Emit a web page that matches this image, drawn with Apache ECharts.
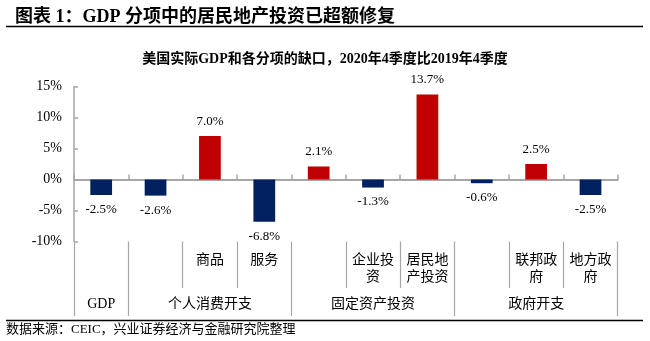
<!DOCTYPE html>
<html><head><meta charset="utf-8">
<script src="https://cdn.jsdelivr.net/npm/echarts@6/dist/echarts.min.js"></script>
<style>html,body{margin:0;padding:0;background:#fff}#c{width:650px;height:341px}</style>
</head><body><div id="c"></div><script>
const categories = ["GDP","个人消费开支","商品","服务","固定资产投资","企业投资","居民地产投资","政府开支","联邦政府","地方政府"];
const values = [-2.5,-2.6,7.0,-6.8,2.1,-1.3,13.7,-0.6,2.5,-2.5];
const subLabels = ["","","商品","服务","","企业投资","居民地产投资","","联邦政府","地方政府"];
const groupLabels = ["GDP","","个人消费开支","","","固定资产投资","","","政府开支",""];
const yTicks = [-10,-5,0,5,10,15];

const FF = "'Liberation Serif','Noto Sans CJK SC',serif";
const GREY = '#A6A6A6';
const wrap = s => (s.match(/.{1,3}/g) || ['']).join('\n');

const chart = echarts.init(document.getElementById('c'), null, {renderer:'canvas'});
chart.setOption({
  animation:false,
  backgroundColor:'#fff',
  title:[
    {text:'图表 1：GDP 分项中的居民地产投资已超额修复', left:15, top:8, padding:0,
     textStyle:{fontSize:18, fontWeight:'bold', fontFamily:FF, color:'#000'}},
    {text:'美国实际GDP和各分项的缺口，2020年4季度比2019年4季度', left:'center', top:52, padding:0,
     textStyle:{fontSize:14, fontWeight:'bold', fontFamily:FF, color:'#000'}},
    {text:'数据来源：CEIC，兴业证券经济与金融研究院整理', left:6, top:323, padding:0,
     textStyle:{fontSize:13, fontWeight:'normal', fontFamily:FF, color:'#000'}}
  ],
  graphic:[
    {type:'line', shape:{x1:6,y1:26.5,x2:643,y2:26.5}, style:{stroke:'#000', lineWidth:1.5}},
    {type:'line', shape:{x1:6,y1:320.5,x2:643,y2:320.5}, style:{stroke:'#000', lineWidth:1.5}}
  ],
  grid:{left:74, right:32.3, top:86.5, bottom:99.5},
  xAxis:[
    {type:'category', data:categories, position:'bottom',
     axisLine:{onZero:true, lineStyle:{color:GREY, width:2}},
     axisTick:{show:true, inside:true, length:5, interval:0, lineStyle:{color:GREY, width:1.5}},
     axisLabel:{show:false}},
    {type:'category', data:categories, position:'bottom', offset:0,
     axisLine:{show:false, onZero:false},
     axisTick:{show:true, length:46.5, interval:0, lineStyle:{color:GREY, width:1.2}},
     axisLabel:{interval:0, margin:10, lineHeight:17.5, fontSize:14, fontFamily:FF, color:'#000',
       formatter:(v,i)=>wrap(subLabels[i])}},
    {type:'category', data:categories, position:'bottom', offset:46.5,
     axisLine:{show:false, onZero:false},
     axisTick:{show:true, length:28, interval:(i)=>subLabels[i]==="", lineStyle:{color:GREY, width:1.2}},
     axisLabel:{interval:0, margin:8, lineHeight:17.5, fontSize:14, fontFamily:FF, color:'#000',
       formatter:(v,i)=>groupLabels[i]}}
  ],
  yAxis:{type:'value', min:yTicks[0], max:yTicks[yTicks.length-1], interval:5,
    axisLine:{show:true, lineStyle:{color:GREY, width:1.5}},
    axisTick:{show:true, inside:true, length:4, lineStyle:{color:GREY, width:1.5}},
    splitLine:{show:false},
    axisLabel:{formatter:'{value}%', margin:12, fontSize:14, fontFamily:FF, color:'#000'}},
  series:[{
    type:'bar', xAxisIndex:0, barWidth:'40%',
    data:values.map(v=>({value:v,
      itemStyle:{color: v>=0 ? '#C00000' : '#002060'},
      label:{position: v>=0 ? 'top' : 'bottom'}})),
    label:{show:true, distance:8, fontSize:13, fontFamily:FF, color:'#000',
      formatter:p=>p.value.toFixed(1)+'%'}
  }]
});
</script></body></html>
